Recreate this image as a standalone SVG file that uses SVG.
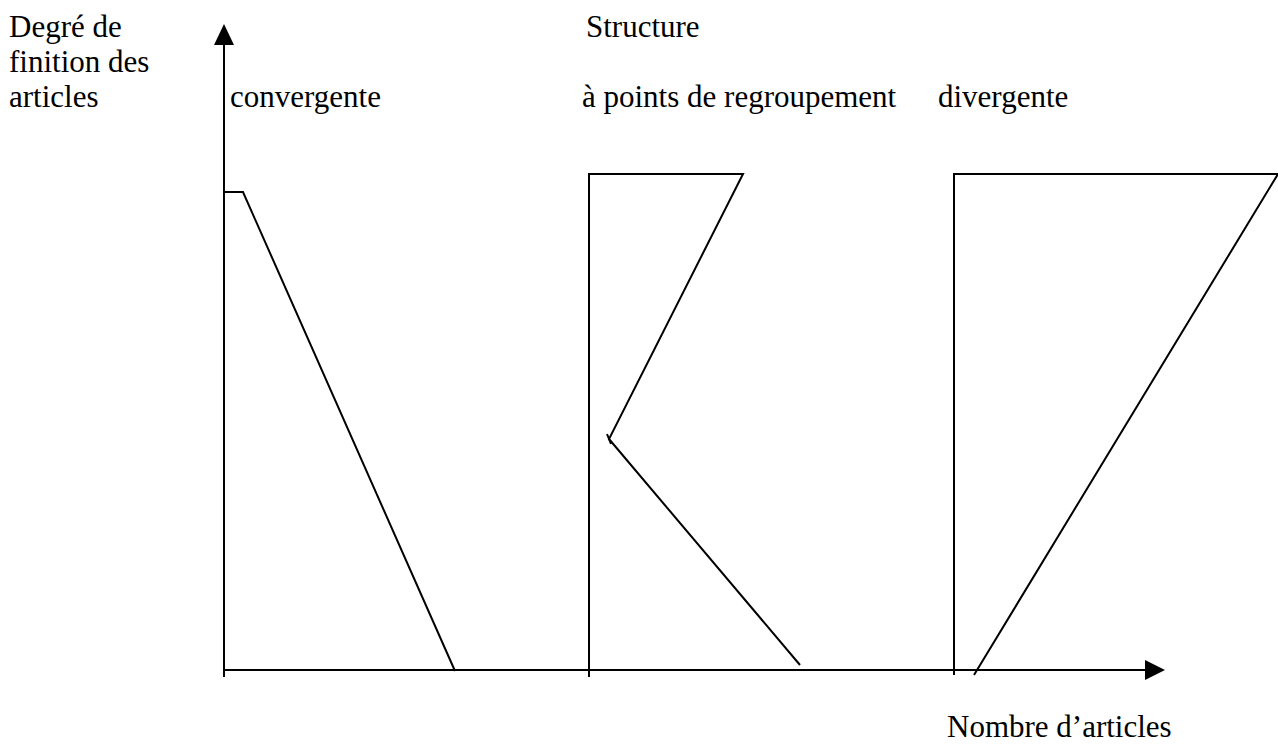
<svg xmlns="http://www.w3.org/2000/svg" width="1278" height="747" viewBox="0 0 1278 747">
<style>
text{font-family:"Liberation Serif","Times New Roman",serif;font-size:31px;fill:#000}
.ln{stroke:#000;stroke-width:2;fill:none}
</style>
<rect width="1278" height="747" fill="#fff"/>
<g id="labels">
<text x="9" y="37">Degré de</text>
<text x="9" y="72">finition des</text>
<text x="9" y="107">articles</text>
<text x="586" y="37">Structure</text>
<text x="230" y="107">convergente</text>
<text x="582" y="107">à points de regroupement</text>
<text x="938" y="107">divergente</text>
<text x="947" y="737">Nombre d’articles</text>
</g>
<g id="axes">
<line class="ln" x1="224" y1="677" x2="224" y2="42"/>
<polygon points="224,24 214,45 234,45" fill="#000"/>
<line class="ln" x1="224" y1="670" x2="1147" y2="670"/>
<polygon points="1165,670 1145,660 1145,680" fill="#000"/>
</g>
<g id="convergente">
<polyline class="ln" points="224,192 243,192 455,671"/>
</g>
<g id="regroupement">
<polyline class="ln" points="589,677 589,174 743,174 609,439 800,665"/>
<line class="ln" x1="607" y1="434" x2="611" y2="444"/>
</g>
<g id="divergente">
<polyline class="ln" points="954,675 954,174 1278,174 974,675"/>
</g>
</svg>
